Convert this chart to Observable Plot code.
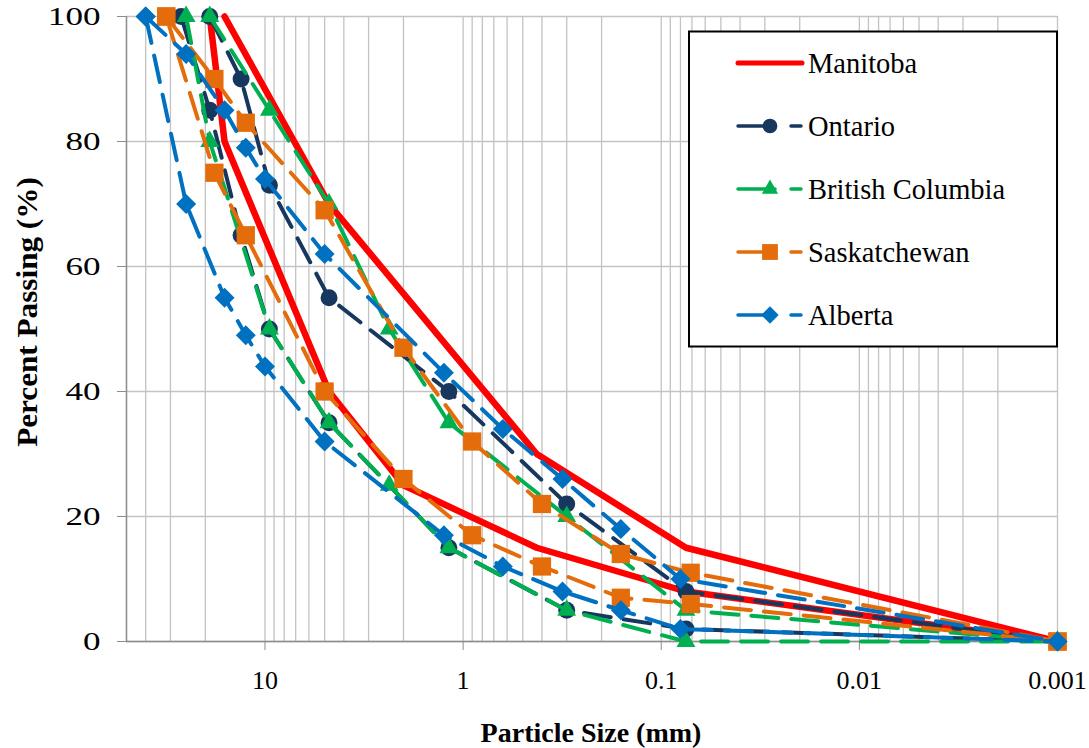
<!DOCTYPE html>
<html><head><meta charset="utf-8">
<script src="https://cdn.jsdelivr.net/npm/d3@7"></script>
<script src="https://cdn.jsdelivr.net/npm/@observablehq/plot@0.6"></script>
<style>
html,body{margin:0;padding:0;background:#fff;}
#chart{position:relative;width:1089px;height:748px;}
</style></head><body><div id="chart"></div>
<script>
// ---- data ----
const provinces = ["Manitoba", "Ontario", "British Columbia", "Saskatchewan", "Alberta"];
const colors = ["#FF0000", "#17375E", "#00B050", "#E46C0A", "#0070C0"];

const manitobaUpperSize = [16, 4.75, 0.425, 0.075, 0.001];
const manitobaUpperPass = [100, 70, 30, 15, 0];
const manitobaLowerSize = [19, 16, 4.75, 2, 0.425, 0.075, 0.001];
const manitobaLowerPass = [100, 80, 40, 25, 15, 8, 0];

const ontarioUpperSize = [19, 13.2, 9.5, 4.75, 1.18, 0.3, 0.075, 0.001];
const ontarioUpperPass = [100, 90, 73, 55, 40, 22, 8, 0];
const ontarioLowerSize = [26.5, 19, 13.2, 9.5, 4.75, 1.18, 0.3, 0.075, 0.001];
const ontarioLowerPass = [100, 85, 65, 50, 35, 15, 5, 2, 0];

const bcUpperSize = [19, 9.5, 4.75, 2.36, 1.18, 0.3, 0.075, 0.001];
const bcUpperPass = [100, 85, 70, 50, 35, 20, 5, 0];
const bcLowerSize = [25, 19, 9.5, 4.75, 2.36, 1.18, 0.3, 0.075, 0.001];
const bcLowerPass = [100, 80, 50, 35, 25, 15, 5, 0, 0];

const saskSize = [31.5, 18, 12.5, 5, 2, 0.9, 0.4, 0.16, 0.071, 0.001];
const saskUpperPass = [100, 90, 83, 69, 47, 32, 22, 14, 11, 0];
const saskLowerPass = [100, 75, 65, 40, 26, 17, 12, 7, 6, 0];

const albertaSize = [40, 25, 16, 12.5, 10, 5, 1.25, 0.63, 0.315, 0.16, 0.08, 0.001];
const albertaUpperPass = [100, 94, 85, 79, 74, 62, 43, 34, 26, 18, 10, 0];
const albertaLowerPass = [100, 70, 55, 49, 44, 32, 17, 12, 8, 5, 2, 0];

const xTicks = [10, 1, 0.1, 0.01, 0.001];
const yTicks = [0, 20, 40, 60, 80, 100];
const xDomain = [50, 0.001];
const xGrid = [];
for (const dec of [0.001, 0.01, 0.1, 1, 10]) for (let m = 1; m <= 9; m++) { const v = +(m * dec).toPrecision(3); if (v <= 50) xGrid.push(v); }

// ---- build table ----
function rows(province, bound, sizes, pass) {
  return sizes.map((s, i) => ({province, curve: province + " " + bound, size: s, pass: pass[i]}));
}
const data = [
  rows("Manitoba", "upper", manitobaUpperSize, manitobaUpperPass),
  rows("Manitoba", "lower", manitobaLowerSize, manitobaLowerPass),
  rows("Ontario", "upper", ontarioUpperSize, ontarioUpperPass),
  rows("Ontario", "lower", ontarioLowerSize, ontarioLowerPass),
  rows("British Columbia", "upper", bcUpperSize, bcUpperPass),
  rows("British Columbia", "lower", bcLowerSize, bcLowerPass),
  rows("Saskatchewan", "upper", saskSize, saskUpperPass),
  rows("Saskatchewan", "lower", saskSize, saskLowerPass),
  rows("Alberta", "upper", albertaSize, albertaUpperPass),
  rows("Alberta", "lower", albertaSize, albertaLowerPass)
].flat();

const symbolFor = {"Ontario": d3.symbolCircle, "British Columbia": d3.symbolTriangle, "Saskatchewan": d3.symbolSquare, "Alberta": d3.symbolDiamond2};
const rFor = {"Ontario": 8.5, "British Columbia": 7, "Saskatchewan": 10.3, "Alberta": 9};
const colorOf = p => colors[provinces.indexOf(p)];
const DASH = "27,13";

const seriesMarks = provinces.flatMap(p => {
  const d = data.filter(r => r.province === p);
  if (p === "Manitoba") {
    return [Plot.line(d, {x: "size", y: "pass", z: "curve", stroke: colorOf(p), strokeWidth: 6.5, strokeLinejoin: "round", strokeLinecap: "round"})];
  }
  return [
    Plot.line(d, {x: "size", y: "pass", z: "curve", stroke: colorOf(p), strokeWidth: 4, strokeDasharray: DASH, strokeLinecap: "round", strokeLinejoin: "round"}),
    Plot.dot(d, {x: "size", y: "pass", symbol: symbolFor[p], r: rFor[p], fill: colorOf(p), stroke: "none"})
  ];
});

const plot = Plot.plot({
  width: 1089,
  height: 748,
  marginLeft: 126,
  marginRight: 32,
  marginTop: 16,
  marginBottom: 107,
  style: {fontFamily: "'Liberation Serif', 'Times New Roman', serif", fontSize: "26px", background: "white", color: "black"},
  x: {type: "log", domain: xDomain},
  y: {domain: [0, 100]},
  marks: [
    Plot.gridX(xGrid, {stroke: "#c3c3c3", strokeOpacity: 1, strokeWidth: 1.3}),
    Plot.gridY(yTicks, {stroke: "#c3c3c3", strokeOpacity: 1, strokeWidth: 1.3}),
    Plot.ruleX([xDomain[0]], {stroke: "#8c8c8c", strokeWidth: 1.4}),
    Plot.ruleY([0], {stroke: "#8c8c8c", strokeWidth: 1.4}),
    Plot.axisX(xTicks, {tickSize: 9, tickPadding: 20, stroke: "#8c8c8c", color: "black", tickFormat: d => String(d), label: null, fontSize: 26}),
    Plot.axisY(yTicks, {tickSize: 9, tickPadding: 17, stroke: "#8c8c8c", color: "black", label: null, fontSize: 26}),
    ...seriesMarks
  ]
});

// widen y tick labels horizontally (as in the reference), scaling about each label's right-hand anchor
plot.querySelectorAll('g[aria-label="y-axis tick label"] text').forEach(t => {
  const x = parseFloat(t.getAttribute("x")) || 0;
  const tr = t.getAttribute("transform") || "";
  t.setAttribute("transform", `${tr} translate(${x},0) scale(1.35,1) translate(${-x},0)`.trim());
});

// ---- axis titles and legend ----
const svg = d3.select(plot);
svg.append("text").attr("x", 591).attr("y", 742).attr("text-anchor", "middle")
  .attr("font-weight", "bold").attr("font-size", 28).attr("fill", "black").text("Particle Size (mm)");
svg.append("text").attr("transform", "translate(27,312) rotate(-90) scale(1.04,1)").attr("text-anchor", "middle")
  .attr("dominant-baseline", "central").attr("font-weight", "bold").attr("font-size", 30).attr("fill", "black").text("Percent Passing (%)");

const lg = svg.append("g");
lg.append("rect").attr("x", 689).attr("y", 31.5).attr("width", 368).attr("height", 315)
  .attr("fill", "white").attr("stroke", "black").attr("stroke-width", 2);
provinces.forEach((p, i) => {
  const cy = 63 + i * 63;
  const c = colorOf(p);
  if (p === "Manitoba") {
    lg.append("line").attr("x1", 738).attr("x2", 802).attr("y1", cy).attr("y2", cy)
      .attr("stroke", c).attr("stroke-width", 5).attr("stroke-linecap", "round");
  } else {
    lg.append("line").attr("x1", 738).attr("x2", 775).attr("y1", cy).attr("y2", cy)
      .attr("stroke", c).attr("stroke-width", 3.5).attr("stroke-linecap", "round");
    lg.append("line").attr("x1", 791).attr("x2", 801).attr("y1", cy).attr("y2", cy)
      .attr("stroke", c).attr("stroke-width", 3.5).attr("stroke-linecap", "round");
    const r = rFor[p];
    lg.append("path").attr("transform", `translate(770,${cy})`)
      .attr("d", d3.symbol(symbolFor[p], Math.PI * r * r * 0.75)()).attr("fill", c);
  }
  lg.append("text").attr("x", 808).attr("y", cy + 10).attr("text-anchor", "start")
    .attr("font-size", 28.5).attr("fill", "black").text(p);
});

document.getElementById("chart").appendChild(plot);
</script>
</body></html>
